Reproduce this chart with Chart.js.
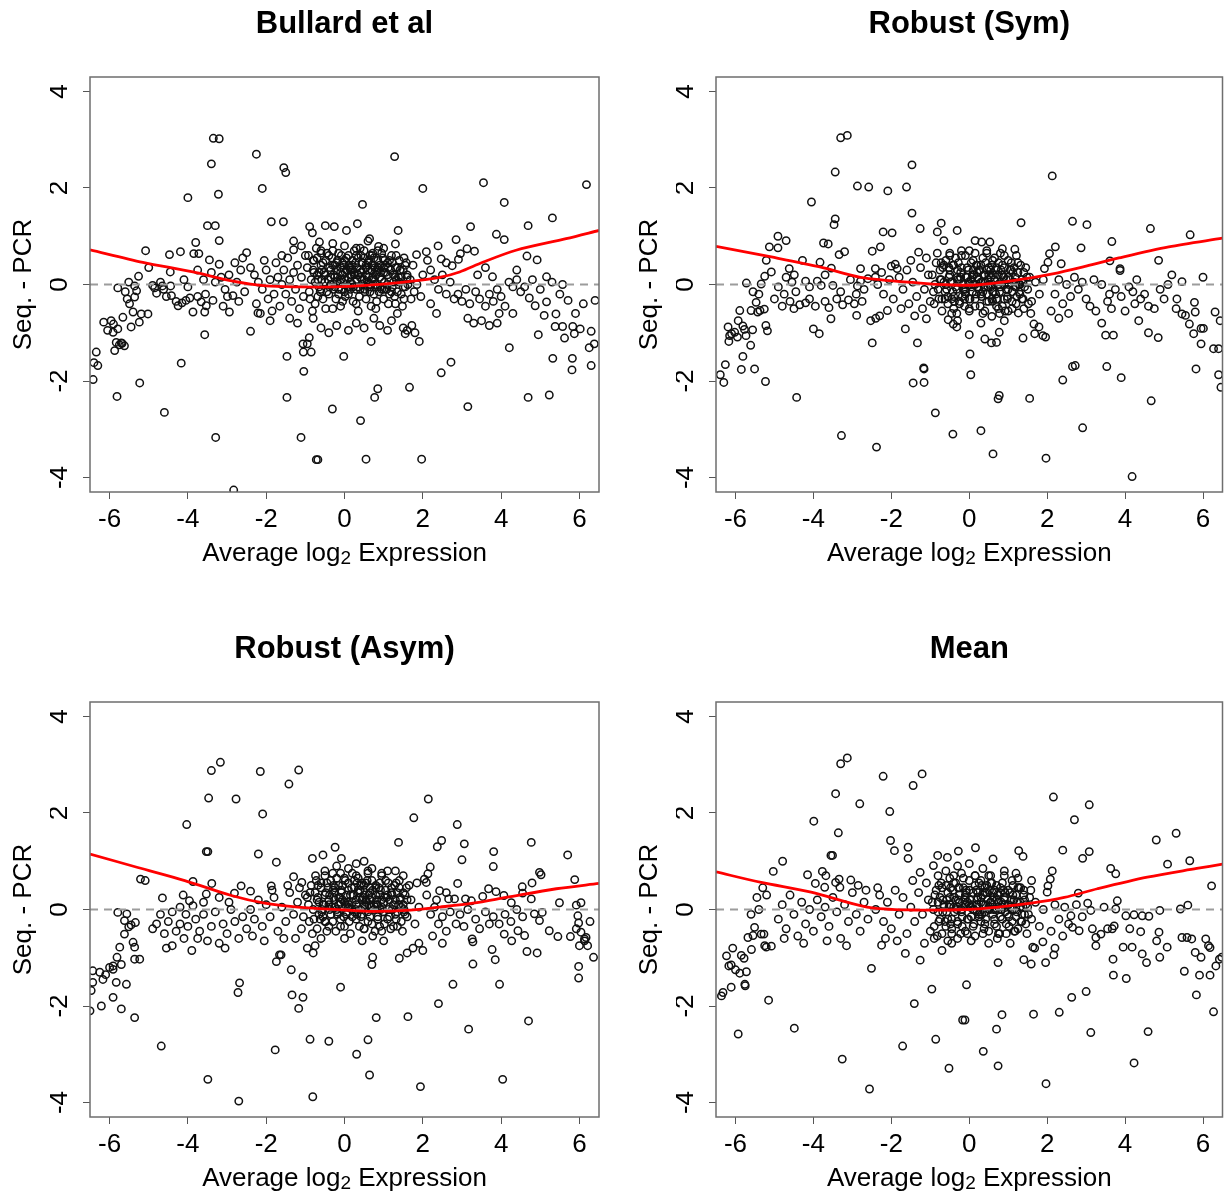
<!DOCTYPE html>
<html>
<head>
<meta charset="utf-8">
<script src="https://cdn.jsdelivr.net/npm/chart.js@4.4.0/dist/chart.umd.min.js"></script>
<style>
  body { margin: 0; background: #fff; width: 1228px; height: 1197px; position: relative; overflow: hidden; }
  canvas { position: absolute; }
</style>
</head>
<body>
<canvas id="c1" width="614" height="572" style="left:0;top:0"></canvas>
<canvas id="c2" width="614" height="572" style="left:614px;top:0"></canvas>
<canvas id="c3" width="614" height="572" style="left:0;top:625px"></canvas>
<canvas id="c4" width="614" height="572" style="left:614px;top:625px"></canvas>
<script>
const xTicks = [-6, -4, -2, 0, 2, 4, 6];
const yTicks = [-4, -2, 0, 2, 4];
const xRange = [-6.5, 6.5];
const yRange = [-4.3, 4.3];
const xLabelParts = ['Average log', '2', ' Expression'];
const yLabel = 'Seq. - PCR';
const FONT = '"Liberation Sans", Arial, Helvetica, sans-serif';

// ---- Bullard et al ----
const bullardPts = [
  [-6.42,-1.97],[-6.4,-1.62],[-6.3,-1.68],[-6.34,-1.40],[-6.15,-0.78],[-5.96,-0.75],[-5.91,-0.99],[-5.83,-1.20],[-5.87,-1.37],[-5.70,-1.21],
  [-5.62,-1.27],[-5.79,-0.92],[-5.66,-0.68],[-5.45,-0.88],[-5.49,-0.40],[-5.40,-0.57],[-5.36,-0.26],[-5.24,-0.78],[-5.19,-0.61],[-5.02,-0.61],
  [-5.81,-2.32],[-5.23,-2.04],[-5.79,-0.07],[-5.51,0.05],[-5.36,-0.03],[-5.31,-0.13],[-5.26,0.17],[-5.0,0.35],[-5.08,0.70],[-5.6,-0.15],
  [-5.55,-0.3],[-5.75,-1.25],[-5.68,-1.22],[-6.05,-0.95],[-5.9,-0.82],
  [-4.85,-0.07],[-4.65,-0.03],[-4.44,-0.03],[-4.0,-0.05],[-4.45,0.26],[-4.6,-2.65],[-4.17,-1.63],[-3.57,-1.04],[-3.29,-3.17],[-2.83,-4.26],
  [-4.47,0.62],[-4.19,0.68],[-3.85,0.64],[-3.72,0.64],[-3.45,0.51],[-3.8,0.87],[-3.2,0.91],[-3.5,1.22],[-3.3,1.22],[-4.0,1.80],
  [-3.22,1.87],[-3.4,2.50],[-3.35,3.03],[-3.2,3.02],[-2.5,0.66],[-2.25,2.70],[-2.1,1.99],
  [-3.87,-0.57],[-3.57,-0.57],[-3.53,-0.44],[-3.36,-0.33],[-2.94,-0.57],[-2.85,-0.23],[-2.99,-0.25],[-2.21,-0.59],
  [-4.42,-0.23],[-4.3,-0.35],[-4.25,-0.44],[-4.15,-0.38],[-4.05,-0.33],[-3.95,-0.28],[-3.75,-0.25],[-3.66,-0.36],
  [-4.9,-0.02],[-4.8,-0.18],[-4.62,-0.1],[-4.55,-0.25],[-4.7,0.05],
  [-3.6,0.1],[-3.4,0.25],[-3.3,0.05],[-3.15,0.15],[-3.05,-0.1],[-2.95,0.2],[-2.75,0.05],[-2.65,0.3],[-2.55,-0.15],[-2.7,-0.35],
  [-3.1,-0.45],[-3.55,-0.2],[-3.75,0.3],[-4.1,0.1],[-3.2,0.42],[-2.8,0.45],[-2.6,0.55],[-2.4,-0.97],
  [-1.87,1.30],[-1.56,1.30],[-1.55,2.42],[-1.5,2.32],[-1.3,0.72],[-1.47,-1.49],[-1.47,-2.34],[-1.11,-3.17],[-1.04,-1.80],[-1.05,-1.4],
  [-0.95,-1.23],[-0.9,-1.1],[-0.72,-3.63],
  [-2.3,0.2],[-2.2,0.05],[-2.1,-0.1],[-2.0,0.3],[-1.95,-0.3],[-1.9,0.1],[-1.8,-0.2],[-1.75,0.45],[-1.7,0.15],[-1.65,-0.45],
  [-1.6,0.0],[-1.55,0.3],[-1.5,-0.2],[-1.45,0.55],[-1.4,0.1],[-1.35,-0.35],[-1.3,0.25],[-1.25,-0.1],[-1.2,0.4],[-1.15,-0.5],
  [-1.1,0.15],[-1.05,-0.25],[-1.0,0.6],[-2.4,0.35],[-2.25,-0.4],[-2.05,0.5],[-1.85,-0.55],[-1.6,0.6],[-1.4,-0.7],[-1.2,-0.8],
  [-1.9,-0.75],[-2.15,-0.6],[-1.3,0.9],[-1.1,0.8],
  [-0.89,1.2],[-0.82,1.07],[-0.49,1.22],[-0.26,1.2],[-0.64,0.88],[0.05,1.12],[0.33,1.26],[0.64,0.95],[0.87,0.79],[0.46,1.66],
  [1.28,2.65],[1.37,1.12],[1.30,0.84],[1.84,0.62],[2.0,1.99],[-0.02,-1.49],[0.68,-1.18],[-1.06,-1.23],[-0.85,-1.40],[-0.31,-2.58],
  [0.41,-2.82],[0.85,-2.16],[0.77,-2.34],[-0.68,-3.63],[0.55,-3.62],[1.97,-3.62],[1.91,-1.18],[1.66,-2.13],[1.5,-0.9],[1.6,-0.95],
  [1.72,-0.85],[1.8,-1.0],[1.55,-1.02],
  [-0.6,-0.9],[-0.4,-1.0],[-0.2,-0.85],[0.1,-0.95],[0.3,-0.8],[0.5,-0.9],[0.9,-0.85],[1.1,-0.95],[1.2,-0.75],[-0.8,-0.7],[0.75,-0.7],[1.35,-0.6],
  [-0.95,0.35],[-0.9,-0.15],[-0.85,0.1],[-0.8,0.5],[-0.75,-0.4],[-0.7,0.2],[-0.65,-0.05],[-0.6,0.4],[-0.55,-0.3],[-0.5,0.05],
  [-0.45,0.65],[-0.4,-0.2],[-0.35,0.3],[-0.3,-0.5],[-0.25,0.15],[-0.2,0.45],[-0.15,-0.1],[-0.1,0.25],[-0.05,-0.35],[0.0,0.1],
  [0.05,0.55],[0.1,-0.2],[0.15,0.3],[0.2,0.0],[0.25,0.7],[0.3,-0.4],[0.35,0.2],[0.4,-0.1],[0.45,0.45],[0.5,0.1],
  [0.55,-0.3],[0.6,0.3],[0.65,0.0],[0.7,0.6],[0.75,-0.2],[0.8,0.2],[0.85,-0.05],[0.9,0.4],[0.95,0.1],[1.0,-0.3],
  [1.05,0.25],[1.1,0.0],[1.15,0.5],[1.2,-0.15],[1.25,0.2],[1.3,-0.4],[1.35,0.35],[1.4,0.05],[1.45,-0.2],[1.5,0.3],
  [1.55,-0.05],[1.6,0.15],[1.7,-0.3],[1.75,0.4],[1.85,0.0],[1.95,-0.25],[2.0,0.2],
  [-0.92,0.6],[-0.82,-0.55],[-0.72,0.75],[-0.62,-0.15],[-0.52,0.25],[-0.42,0.1],[-0.32,0.55],[-0.22,-0.3],[-0.12,0.05],[-0.02,0.4],
  [0.08,-0.05],[0.18,0.2],[0.28,0.45],[0.38,-0.25],[0.48,0.3],[0.58,0.05],[0.68,-0.45],[0.78,0.35],[0.88,-0.15],[0.98,0.55],
  [1.08,-0.1],[1.18,0.3],[1.28,-0.25],[1.38,0.15],[1.48,-0.45],[1.58,0.45],[1.68,0.1],[1.78,-0.15],
  [-0.88,-0.3],[-0.78,0.25],[-0.68,-0.25],[-0.58,0.1],[-0.48,-0.5],[-0.38,0.35],[-0.28,-0.1],[-0.18,0.15],[-0.08,0.6],[0.02,-0.25],
  [0.12,0.35],[0.22,-0.35],[0.32,0.1],[0.42,0.25],[0.52,-0.15],[0.62,0.5],[0.72,0.15],[0.82,-0.35],[0.92,0.25],[1.02,0.05],
  [1.12,-0.4],[1.22,0.45],[1.32,0.1],[1.42,0.3],[1.52,-0.3],[1.62,0.0],[-0.6,0.7],[0.0,0.8],[0.4,0.75],[0.85,0.7],[-0.3,0.85],[0.6,0.9],
  [-0.35,0.0],[-0.25,0.4],[-0.15,-0.2],[-0.05,0.2],[0.05,0.0],[0.15,-0.1],[0.25,0.25],[0.35,-0.05],[0.45,0.1],[0.55,0.35],
  [0.65,-0.15],[0.75,0.1],[0.85,0.3],[0.95,-0.1],[0.2,0.4],[0.5,0.55],[0.3,0.6],[0.7,0.4],[-0.1,-0.45],[0.35,-0.55],
  [0.8,-0.5],[1.0,0.35],[0.1,0.15],[0.6,-0.05],
  [2.39,0.80],[2.47,0.53],[2.75,0.39],[2.91,0.52],[2.96,0.64],[3.13,0.74],[3.32,0.69],[2.85,0.93],[3.22,1.20],[3.88,1.04],
  [4.08,0.93],[4.08,1.70],[3.55,2.11],[4.69,1.22],[5.31,1.38],[6.18,2.07],[4.66,0.59],[4.92,0.51],[5.16,0.16],[5.57,0.0],
  [3.78,0.16],[2.09,0.68],[2.12,0.50],[2.2,0.3],[2.3,0.1],[2.4,-0.1],[2.5,0.2],[2.6,-0.2],[2.7,0.05],[2.8,-0.3],[2.2,-0.4],[2.35,-0.6],
  [6.4,-0.33],[5.71,-0.33],[5.16,-0.36],[4.72,-0.28],[4.87,-0.44],[5.10,-0.64],[5.40,-0.61],[5.38,-0.87],[5.57,-0.87],[5.62,-1.11],
  [5.83,-0.87],[6.02,-0.92],[5.87,-1.02],[4.95,-1.04],[6.3,-0.97],[6.25,-1.31],[6.38,-1.23],[6.3,-1.68],[5.82,-1.53],[5.81,-1.77],
  [5.32,-1.53],[5.23,-2.29],[4.69,-2.34],[4.21,-1.31],[3.15,-2.53],[2.72,-1.61],[2.47,-1.83],
  [3.15,-0.7],[3.3,-0.8],[3.5,-0.75],[3.7,-0.85],[3.9,-0.8],[3.95,-0.6],
  [2.9,-0.2],[3.0,-0.35],[3.1,-0.1],[3.2,-0.4],[3.35,-0.15],[3.45,-0.3],[3.6,-0.45],[3.7,-0.2],[3.8,-0.35],[3.9,-0.1],
  [4.0,-0.25],[4.2,0.05],[4.3,-0.05],[4.4,0.1],[4.5,-0.15],[4.1,-0.45],[4.3,-0.6],[4.6,-0.05],[4.8,0.1],[5.0,-0.1],
  [5.3,0.05],[5.5,-0.2],[5.9,-0.6],[6.1,-0.4],[3.4,0.2],[3.6,0.35],[4.4,0.3],[2.6,0.45]
];
// dense centre of the Bullard cloud
const bullardCore = [
  [-0.8,0.3],[-0.75,0.05],[-0.7,0.55],[-0.65,0.25],[-0.6,-0.1],[-0.55,0.45],[-0.5,0.2],[-0.45,-0.15],[-0.4,0.6],[-0.35,0.15],
  [-0.3,0.4],[-0.25,-0.05],[-0.2,0.3],[-0.15,0.65],[-0.1,0.1],[-0.05,0.45],[0.0,-0.15],[0.05,0.3],[0.1,0.6],[0.15,0.05],
  [0.2,0.5],[0.25,0.2],[0.3,-0.1],[0.35,0.55],[0.4,0.3],[0.45,0.0],[0.5,0.7],[0.55,0.2],[0.6,0.45],[0.65,-0.05],
  [0.7,0.3],[0.75,0.55],[0.8,0.0],[0.85,0.5],[0.9,0.15],[0.95,0.65],[1.0,-0.1],[1.05,0.4],[1.1,0.2],[1.15,-0.2],
  [1.2,0.6],[1.25,0.05],[1.3,0.35],[1.35,-0.15],[1.4,0.5],[1.45,0.15],[1.5,-0.05],[1.55,0.4],[1.6,0.2],
  [-0.78,0.5],[-0.68,0.1],[-0.58,0.3],[-0.48,0.5],[-0.38,-0.05],[-0.28,0.2],[-0.18,0.5],[-0.08,-0.1],[0.02,0.25],[0.12,0.4],
  [0.22,-0.05],[0.32,0.35],[0.42,0.6],[0.52,-0.1],[0.62,0.15],[0.72,0.65],[0.82,0.25],[0.92,-0.05],[1.02,0.5],[1.12,0.35],
  [1.22,-0.05],[1.32,0.6],[1.42,0.3],[1.52,0.55],
  [-0.6,0.65],[-0.3,0.7],[0.0,0.5],[0.3,0.75],[0.65,0.6],[1.0,0.75],[-0.2,0.05],[0.1,-0.05],[0.4,0.15],[0.7,0.1],
  [1.0,0.25],[1.3,0.15],[0.2,0.3],[0.55,0.4],[0.85,0.35],[-0.1,0.35],[0.15,0.2],[0.45,0.45],[0.75,0.4],[1.1,0.45]
];
const bullardFit = [[-6.5,0.72],[-5.15,0.46],[-3.87,0.26],[-2.85,0.07],[-2.0,-0.03],[-1.15,-0.05],[-0.3,-0.05],[0.55,-0.02],
  [1.4,0.04],[2.43,0.15],[2.94,0.26],[3.53,0.46],[4.38,0.71],[5.66,0.95],[6.5,1.12]];

// ---- Robust (Sym) ----
const symPts = [
  [-6.39,-1.87],[-6.30,-2.03],[-6.26,-1.66],[-6.19,-0.88],[-6.15,-1.06],[-6.17,-1.18],[-6.10,-1.02],[-6.02,-0.99],[-5.93,-0.75],[-5.89,-0.54],
  [-5.95,-1.09],[-5.81,-0.86],[-5.77,-0.93],[-5.73,-1.06],[-5.60,-0.54],[-5.56,-0.94],[-5.47,-0.37],[-5.43,-0.57],[-5.37,-0.54],[-5.26,-0.51],
  [-5.22,-0.85],[-5.18,-0.96],[-5.61,-1.26],[-5.81,-1.49],[-5.85,-1.76],[-5.51,-1.75],[-5.23,-2.01],[-5.72,0.03],[-5.34,0.01],[-5.25,0.17],
  [-5.08,0.26],[-5.21,0.50],[-5.13,0.78],[-5.4,-0.2],[-5.55,-0.15],
  [-4.91,1.0],[-4.70,0.91],[-4.91,0.76],[-4.62,0.33],[-4.49,0.20],[-4.28,0.50],[-3.83,0.46],[-3.54,0.34],[-3.74,0.86],[-3.62,0.84],
  [-3.34,0.62],[-3.20,0.68],[-4.05,1.71],[-3.44,1.36],[-3.47,1.24],[-3.44,2.33],[-3.30,3.04],[-3.13,3.09],[-2.87,2.04],[-2.58,2.02],
  [-2.79,0.33],[-2.79,0.07],[-2.87,-0.03],
  [-4.2,0.07],[-3.9,0.07],[-3.8,-0.02],[-3.5,-0.02],[-4.43,-2.34],[-3.28,-3.13],[-4.0,-0.92],[-3.85,-1.02],[-3.55,-0.71],[-2.89,-0.64],[-2.49,-1.21],
  [-5.0,-0.3],[-4.8,-0.45],[-4.6,-0.35],[-4.5,-0.5],[-4.35,-0.42],[-4.2,-0.38],[-4.1,-0.3],[-3.95,-0.45],[-3.7,-0.35],[-3.6,-0.48],
  [-3.4,-0.3],[-3.25,-0.42],[-3.1,-0.32],[-2.95,-0.4],
  [-4.9,-0.05],[-4.75,-0.2],[-4.55,0.05],[-4.45,-0.15],[-4.1,-0.05],[-3.7,0.2],[-3.3,-0.15],[-3.05,0.1],[-2.9,-0.2],[-2.7,-0.1],
  [-2.6,0.12],[-2.75,-0.35],[-4.7,0.15],
  [-2.49,0.69],[-2.28,0.78],[-2.41,0.33],[-2.41,0.15],[-2.21,1.09],[-1.98,1.07],[-2.09,1.94],[-1.61,2.02],[-1.47,2.48],[-1.47,1.48],
  [-1.26,1.16],[-1.30,0.67],[-2.0,0.38],[-1.9,0.42],[-1.85,0.33],
  [-2.53,-0.75],[-2.4,-0.7],[-2.3,-0.65],[-2.1,-0.54],[-1.64,-0.92],[-1.33,-1.21],[-1.17,-1.73],[-1.44,-2.04],[-1.16,-2.03],[-1.1,-0.71],[-2.38,-3.37],
  [-2.35,0.0],[-2.2,-0.2],[-2.05,0.1],[-1.95,-0.3],[-1.8,0.15],[-1.7,-0.1],[-1.6,0.3],[-1.55,-0.4],[-1.45,0.05],[-1.35,-0.25],
  [-1.25,0.35],[-1.15,-0.1],[-1.05,0.2],[-2.25,0.25],[-1.75,-0.5],[-1.5,0.5],[-1.2,-0.5],[-1.0,-0.35],[-1.1,0.55],[-1.4,-0.65],
  [-0.72,1.27],[-0.82,1.09],[-0.65,0.91],[-0.31,1.12],[0.15,0.91],[0.32,0.88],[0.53,0.88],[0.85,0.74],[1.17,0.73],[1.21,0.60],
  [1.33,1.28],[1.93,0.33],[2.02,0.46],[2.06,0.64],[2.21,0.78],[2.13,2.25],
  [-1.16,-1.75],[-0.87,-2.66],[-0.42,-3.10],[0.30,-3.03],[0.61,-3.51],[0.77,-2.30],[0.74,-2.37],[1.55,-2.36],[1.97,-3.6],[0.02,-1.44],
  [0.04,-1.87],[0.0,-1.04],[0.40,-1.13],[0.57,-1.21],[0.70,-1.20],[0.77,-0.99],[1.38,-1.11],[1.68,-1.02],[1.66,-0.82],[1.89,-1.06],
  [1.96,-1.09],[1.79,-0.88],[1.26,-0.59],[0.58,-0.66],[-0.54,-0.73],[-0.41,-0.82],[-0.32,-0.88],
  [-0.95,0.2],[-0.9,-0.4],[-0.85,0.45],[-0.8,-0.1],[-0.75,0.3],[-0.7,-0.55],[-0.65,0.05],[-0.6,0.5],[-0.55,-0.25],[-0.5,0.2],
  [-0.45,-0.6],[-0.4,0.4],[-0.35,-0.05],[-0.3,0.15],[-0.25,-0.4],[-0.2,0.6],[-0.15,0.0],[-0.1,-0.2],[-0.05,0.35],[0.0,-0.5],
  [0.05,0.1],[0.1,0.5],[0.15,-0.3],[0.2,0.25],[0.25,-0.1],[0.3,0.4],[0.35,-0.6],[0.4,0.05],[0.45,0.3],[0.5,-0.35],
  [0.55,0.15],[0.6,-0.15],[0.65,0.55],[0.7,-0.45],[0.75,0.2],[0.8,-0.05],[0.85,0.4],[0.9,-0.3],[0.95,0.1],[1.0,-0.55],
  [1.05,0.3],[1.1,-0.15],[1.15,0.05],[1.2,-0.4],[1.25,0.25],[1.3,-0.2],[1.35,0.1],[1.4,-0.5],[1.45,0.35],[1.5,-0.1],
  [1.55,0.15],[1.6,-0.35],[1.7,0.05],[1.8,-0.2],[1.9,0.1],
  [-0.92,-0.15],[-0.82,0.65],[-0.72,0.1],[-0.62,-0.3],[-0.52,0.35],[-0.42,-0.15],[-0.32,-0.6],[-0.22,0.25],[-0.12,-0.45],[-0.02,0.05],
  [0.08,-0.15],[0.18,0.4],[0.28,-0.45],[0.38,0.2],[0.48,-0.05],[0.58,0.4],[0.68,-0.2],[0.78,-0.6],[0.88,0.15],[0.98,-0.25],
  [1.08,0.45],[1.18,-0.05],[1.28,0.0],[1.38,-0.3],[1.48,0.15],[1.58,-0.6],[-0.88,0.0],[-0.78,-0.3],[-0.68,0.35],[-0.58,-0.1],
  [-0.48,0.05],[-0.38,-0.35],[-0.28,0.45],[-0.18,-0.25],[-0.08,0.15],[0.02,-0.3],[0.12,0.2],[0.22,-0.05],[0.32,-0.25],[0.42,0.45],
  [0.52,0.0],[0.62,0.2],[0.72,-0.3],[0.82,0.3],[0.92,-0.55],[1.02,0.0],[1.12,0.25],[1.22,-0.25],[1.32,0.4],[1.42,-0.05],
  [1.52,-0.4],[-0.5,0.65],[0.0,0.7],[0.45,0.65],[0.9,0.6],[-0.3,-0.75],[0.3,-0.8],[0.9,-0.75],[-0.25,0.1],[0.05,-0.05],
  [0.35,0.05],[0.6,-0.35],[0.15,0.0],[-0.1,-0.1],[0.55,0.3],[0.25,0.3],[0.75,0.0],[1.0,0.15],[-0.45,-0.3],[0.45,-0.2],
  [2.65,1.31],[3.02,1.24],[4.65,1.16],[5.67,1.03],[3.66,0.89],[4.86,0.50],[3.87,0.33],[3.61,0.49],[2.87,0.76],[2.36,0.43],
  [5.46,0.06],[3.87,0.29],
  [6.31,-0.57],[6.44,-0.75],[6.27,-1.33],[6.40,-1.33],[6.40,-1.87],[6.46,-2.13],[5.82,-1.75],[5.95,-1.23],[5.95,-0.91],[6.01,-0.91],
  [5.76,-1.02],[5.80,-0.57],[5.65,-0.82],[5.55,-0.64],[5.46,-0.61],[5.31,-0.50],[5.33,-0.30],[5.78,-0.37],[4.67,-2.41],[4.18,-3.98],
  [3.90,-1.93],[3.53,-1.70],[2.91,-2.97],[2.65,-1.70],[2.72,-1.68],[2.40,-1.98],
  [3.0,-0.3],[3.1,-0.45],[3.25,-0.55],[3.4,-0.8],[3.5,-1.05],[3.7,-1.05],[3.55,-0.35],[3.6,-0.2],[3.65,-0.5],[3.75,-0.1],
  [3.9,-0.25],[4.0,-0.55],[4.1,-0.05],[4.2,-0.15],[4.25,-0.4],[4.35,-0.75],[4.4,-0.3],[4.5,-0.2],[4.6,-0.45],[4.75,-0.5],
  [4.6,-1.0],[4.85,-1.1],[4.9,-0.1],[5.0,-0.3],[5.1,0.0],[2.2,-0.2],[2.3,0.1],[2.4,-0.4],[2.5,0.0],[2.6,-0.25],
  [2.7,0.15],[2.8,-0.1],[2.9,0.05],[3.2,0.1],[3.4,0.0],[2.1,-0.55],[2.3,-0.7],[2.55,-0.6],[5.2,0.2],[6.0,0.15],[4.3,0.1]
];
const symCore = [
  [-0.75,0.1],[-0.7,-0.3],[-0.65,0.4],[-0.6,0.0],[-0.55,-0.4],[-0.5,0.3],[-0.45,0.05],[-0.4,-0.25],[-0.35,0.55],[-0.3,0.1],
  [-0.25,-0.35],[-0.2,0.35],[-0.15,-0.1],[-0.1,0.6],[-0.05,0.15],[0.0,-0.3],[0.05,0.45],[0.1,0.0],[0.15,-0.45],[0.2,0.4],
  [0.25,0.1],[0.3,-0.2],[0.35,0.55],[0.4,0.2],[0.45,-0.35],[0.5,0.35],[0.55,-0.05],[0.6,0.5],[0.65,0.1],[0.7,-0.3],
  [0.75,0.45],[0.8,0.05],[0.85,-0.45],[0.9,0.35],[0.95,-0.1],[1.0,0.5],[1.05,0.1],[1.1,-0.35],[1.15,0.35],[1.2,-0.05],
  [1.25,0.45],[1.3,0.0],[1.35,-0.3],[1.4,0.25],
  [-0.72,0.45],[-0.62,-0.15],[-0.52,0.15],[-0.42,0.4],[-0.32,-0.1],[-0.22,0.15],[-0.12,-0.3],[-0.02,0.3],[0.08,0.2],[0.18,-0.2],
  [0.28,0.3],[0.38,-0.05],[0.48,0.1],[0.58,-0.3],[0.68,0.3],[0.78,-0.15],[0.88,0.15],[0.98,-0.3],[1.08,0.3],[1.18,0.15],
  [1.28,-0.15],[1.38,0.05],
  [-0.5,0.6],[-0.2,0.7],[0.15,0.65],[0.45,0.7],[0.8,0.65],[-0.4,-0.5],[0.0,-0.55],[0.4,-0.55],[0.75,-0.5],[1.1,-0.5],
  [0.0,0.0],[0.3,0.05],[0.6,0.0],[0.9,0.0],[-0.3,0.3],[0.2,0.15],[0.5,0.2],[0.85,0.2],[-0.1,-0.15],[0.35,-0.15],
  [0.65,-0.15],[1.0,-0.1],[0.1,0.3],[0.7,0.35]
];
const symFit = [[-6.5,0.79],[-5.08,0.57],[-3.81,0.36],[-2.79,0.15],[-1.26,0.03],[-0.41,-0.01],[0.19,-0.01],[1.29,0.10],
  [2.14,0.22],[3.0,0.38],[3.84,0.55],[5.12,0.78],[6.5,0.96]];

// ---- Robust (Asym) ----
const asymPts = [
  [-5.79,-0.06],[-5.56,-0.09],[-5.62,-0.23],[-5.34,-0.27],[-5.45,-0.32],[-5.51,-0.36],[-5.62,-0.51],[-5.74,-0.78],[-5.40,-0.68],[-5.36,-0.78],
  [-5.36,-1.03],[-5.23,-1.03],[-5.81,-0.99],[-5.91,-1.17],[-5.91,-1.24],[-5.70,-1.14],[-5.83,-1.51],[-5.57,-1.55],[-5.70,-2.06],[-5.36,-2.24],
  [-5.91,-1.82],[-6.21,-2.0],[-6.25,-1.30],[-6.17,-1.45],[-6.43,-1.27],[-6.43,-1.51],[-6.47,-1.68],[-6.5,-2.10],[-5.21,0.63],[-5.09,0.60],
  [-6.0,-1.2],[-6.1,-1.35],
  [-4.65,0.24],[-4.12,0.30],[-3.96,0.18],[-3.87,0.08],[-3.87,0.58],[-3.39,0.54],[-3.53,0.32],[-2.64,0.49],[-2.81,0.34],[-2.40,0.38],
  [-4.03,1.76],[-3.53,1.20],[-3.49,1.20],[-3.47,2.31],[-3.40,2.88],[-3.17,3.05],[-2.77,2.29],[-2.15,2.86],[-2.20,1.15],[-2.09,1.98],
  [-4.68,-2.83],[-3.49,-3.52],[-2.70,-3.97],[-2.72,-1.72],[-2.68,-1.52],
  [-4.9,-0.4],[-4.8,-0.3],[-4.7,-0.1],[-4.6,-0.5],[-4.5,-0.25],[-4.4,-0.75],[-4.3,-0.45],[-4.2,-0.3],[-4.1,-0.6],[-4.0,-0.35],
  [-3.9,-0.85],[-3.8,-0.2],[-3.7,-0.45],[-3.6,-0.1],[-3.5,-0.65],[-3.4,-0.35],[-3.3,-0.05],[-3.2,-0.7],[-3.1,-0.3],[-3.0,-0.5],
  [-2.9,0.0],[-2.8,-0.25],[-2.7,-0.6],[-2.6,-0.15],[-2.5,-0.4],[-4.2,0.05],[-3.6,0.15],[-3.2,0.25],[-2.95,0.15],[-4.4,-0.05],
  [-3.75,-0.6],[-4.55,-0.8],[-3.05,-0.8],[-4.05,-0.1],
  [-1.87,0.49],[-1.74,0.98],[-1.42,2.60],[-1.17,2.89],[-1.30,0.68],[-1.09,0.56],[-0.82,1.06],[-0.74,0.70],[-0.55,1.13],[-0.24,1.29],[-0.08,1.06],
  [-1.77,-2.91],[-0.88,-2.69],[-0.40,-2.73],[-1.34,-1.77],[-1.06,-1.82],[-1.17,-2.05],[-1.36,-1.25],[-1.06,-1.39],[-1.74,-1.08],[-1.66,-0.94],
  [-1.62,-0.94],[-0.81,-3.88],[-0.10,-1.61],
  [-2.4,0.0],[-2.3,-0.2],[-2.2,0.2],[-2.1,-0.35],[-2.0,0.1],[-1.9,-0.15],[-1.8,0.25],[-1.7,-0.45],[-1.6,0.05],[-1.5,-0.25],
  [-1.4,0.35],[-1.3,-0.1],[-1.2,0.15],[-1.1,-0.4],[-1.0,0.3],[-2.35,-0.55],[-2.05,-0.65],[-1.85,0.4],[-1.55,-0.6],[-1.25,-0.6],
  [-1.45,0.5],[-1.15,0.45],[-1.05,-0.15],[-0.95,-0.8],[-0.8,-0.9],[-0.75,-0.75],
  [0.72,-0.99],[0.70,-1.14],[1.40,-1.01],[0.81,-2.24],[0.60,-2.70],[0.31,-3.0],[0.64,-3.43],[1.62,-2.22],[1.94,-3.67],[1.6,-0.9],
  [1.75,-0.8],[1.9,-0.7],[2.0,-0.85],
  [1.38,1.39],[1.77,1.90],[0.5,1.0],[0.3,0.95],[0.7,0.85],[1.1,0.8],[1.5,0.7],[1.65,0.5],[1.85,0.55],[-0.5,0.8],[-0.2,0.9],[0.1,0.85],
  [-0.95,0.25],[-0.9,-0.25],[-0.85,0.5],[-0.8,0.0],[-0.75,0.35],[-0.7,-0.4],[-0.65,0.15],[-0.6,0.55],[-0.55,-0.15],[-0.5,0.3],
  [-0.45,-0.45],[-0.4,0.1],[-0.35,0.6],[-0.3,-0.25],[-0.25,0.35],[-0.2,0.0],[-0.15,0.5],[-0.1,-0.35],[-0.05,0.2],[0.0,0.65],
  [0.05,-0.1],[0.1,0.4],[0.15,-0.5],[0.2,0.15],[0.25,0.6],[0.3,-0.2],[0.35,0.35],[0.4,0.0],[0.45,0.55],[0.5,-0.4],
  [0.55,0.2],[0.6,-0.05],[0.65,0.45],[0.7,-0.3],[0.75,0.1],[0.8,0.5],[0.85,-0.15],[0.9,0.3],[0.95,-0.45],[1.0,0.15],
  [1.05,0.4],[1.1,-0.2],[1.15,0.05],[1.2,0.35],[1.25,-0.35],[1.3,0.2],[1.35,-0.05],[1.4,0.45],[1.45,-0.25],[1.5,0.1],
  [1.55,0.3],[1.6,-0.15],[1.7,0.2],[1.8,-0.3],[1.9,0.05],
  [-0.92,0.1],[-0.82,-0.5],[-0.72,0.6],[-0.62,-0.2],[-0.52,0.1],[-0.42,0.45],[-0.32,0.05],[-0.22,-0.45],[-0.12,0.25],[-0.02,-0.15],
  [0.08,0.15],[0.18,0.45],[0.28,0.0],[0.38,-0.35],[0.48,0.25],[0.58,0.6],[0.68,0.05],[0.78,-0.45],[0.88,0.45],[0.98,-0.05],
  [1.08,0.25],[1.18,-0.4],[1.28,0.5],[1.38,0.1],[1.48,-0.45],[1.58,0.45],[-0.88,0.35],[-0.78,-0.2],[-0.68,0.25],[-0.58,0.0],
  [-0.48,-0.25],[-0.38,0.3],[-0.28,0.5],[-0.18,-0.1],[-0.08,0.4],[0.02,0.1],[0.12,-0.25],[0.22,0.3],[0.32,0.55],[0.42,-0.15],
  [0.52,0.05],[0.62,0.3],[0.72,-0.55],[0.82,0.2],[0.92,0.0],[1.02,-0.3],[1.12,0.55],[1.22,0.0],[1.32,-0.2],[1.42,0.25],
  [1.52,-0.05],[-0.3,0.75],[0.2,0.75],[0.6,0.75],[0.95,0.7],[-0.6,-0.6],[0.0,-0.6],[0.45,-0.65],[1.0,-0.65],[0.1,0.05],
  [0.3,0.2],[0.5,0.1],[0.7,0.25],[-0.1,0.15],[0.4,0.4],[0.85,0.1],[0.25,-0.05],[-0.25,0.2],[0.65,-0.15],
  [2.14,2.29],[2.88,1.76],[2.48,1.43],[2.37,1.30],[3.06,1.36],[3.0,1.03],[3.81,1.20],[3.80,0.89],[4.77,1.39],[5.70,1.13],
  [5.88,0.62],[4.98,0.77],[5.02,0.72],[4.79,0.55],[4.54,0.47],[2.19,0.88],[2.13,0.74],[2.04,0.63],[2.09,0.56],[2.89,0.54],
  [2.43,0.39],[2.66,0.22],[2.81,0.22],[3.09,0.22],[3.24,0.18],
  [3.53,0.27],[3.68,0.43],[3.87,0.37],[4.07,0.29],[4.26,0.14],[4.55,0.34],[4.77,0.22],[4.85,-0.09],[4.98,-0.23],[5.05,-0.06],
  [5.23,-0.44],[5.45,-0.56],[5.49,0.14],[5.77,-0.56],[5.92,0.09],[6.04,0.14],[5.96,-0.13],[5.98,-0.28],[5.92,-0.40],[6.04,-0.47],
  [6.00,-0.75],[6.17,-0.58],[6.21,-0.75],[6.13,-0.61],[6.27,-0.25],[6.36,-0.99],[5.98,-1.18],[5.98,-1.42],[6.13,-0.65],
  [4.92,-0.90],[4.66,-0.87],[4.6,-0.54],[4.43,-0.44],[4.27,-0.65],[4.08,-0.51],[3.77,-0.83],[3.85,-1.04],[3.96,-1.55],[4.70,-2.31],
  [3.28,-1.13],[3.26,-0.61],[3.28,-0.67],[3.17,-2.48],[2.77,-1.55],[2.40,-1.95],[4.04,-3.52],
  [2.2,-0.1],[2.3,0.05],[2.4,-0.3],[2.5,-0.15],[2.6,-0.45],[2.7,-0.05],[2.85,-0.3],[2.95,-0.1],[3.05,-0.35],[3.15,0.0],
  [3.35,-0.2],[3.45,-0.4],[3.6,-0.05],[3.7,-0.3],[3.8,-0.15],[3.95,-0.3],[4.1,-0.1],[4.25,-0.25],[4.4,0.0],[4.55,-0.15],
  [2.25,-0.55],[2.5,-0.7],[2.1,0.3],[2.35,0.2],[2.6,0.35]
];
const asymCore = [
  [-0.7,0.2],[-0.65,-0.1],[-0.6,0.45],[-0.55,0.1],[-0.5,-0.25],[-0.45,0.55],[-0.4,0.2],[-0.35,-0.1],[-0.3,0.4],[-0.25,0.05],
  [-0.2,0.65],[-0.15,0.25],[-0.1,-0.2],[-0.05,0.5],[0.0,0.15],[0.05,-0.05],[0.1,0.55],[0.15,0.3],[0.2,-0.15],[0.25,0.45],
  [0.3,0.1],[0.35,0.65],[0.4,0.25],[0.45,-0.1],[0.5,0.5],[0.55,0.15],[0.6,-0.25],[0.65,0.35],[0.7,0.6],[0.75,0.0],
  [0.8,0.3],[0.85,-0.2],[0.9,0.55],[0.95,0.2],[1.0,-0.05],[1.05,0.6],[1.1,0.3],[1.15,-0.15],[1.2,0.45],[1.25,0.1],
  [1.3,-0.1],[1.35,0.35],[1.4,0.6],[1.45,0.05],[1.5,0.35],[1.55,-0.1],[1.6,0.2],
  [-0.68,0.5],[-0.58,-0.05],[-0.48,0.35],[-0.38,0.0],[-0.28,0.25],[-0.18,-0.05],[-0.08,0.35],[0.02,0.6],[0.12,0.1],[0.22,0.3],
  [0.32,-0.1],[0.42,0.5],[0.52,0.3],[0.62,0.1],[0.72,0.4],[0.82,0.1],[0.92,0.4],[1.02,0.25],[1.12,0.0],[1.22,0.3],
  [1.32,0.55],[1.42,0.2],[1.52,0.0],
  [-0.5,0.7],[-0.1,0.75],[0.3,0.7],[0.6,0.8],[0.95,0.75],[1.3,0.8],[-0.4,-0.35],[0.0,-0.35],[0.5,-0.4],[0.9,-0.35],
  [1.35,-0.35],[0.05,0.3],[0.35,0.4],[0.65,0.2],[0.95,0.05],[-0.25,0.45],[0.2,0.0],[0.55,0.55],[0.8,0.45],[1.15,0.2],
  [-0.15,0.1],[0.45,0.2]
];
const asymFit = [[-6.5,1.15],[-5.28,0.87],[-4.08,0.60],[-2.89,0.29],[-2.04,0.13],[-1.19,0.05],[0.0,-0.01],[0.72,-0.04],
  [1.57,-0.02],[2.43,0.05],[3.28,0.13],[4.13,0.25],[5.41,0.43],[6.5,0.54]];

// ---- Mean ----
const meanPts = [
  [-6.23,-0.96],[-6.17,-1.17],[-6.11,-1.15],[-6.07,-0.80],[-5.89,-1.32],[-5.78,-1.01],[-5.76,-1.55],[-5.75,-1.58],[-5.72,-1.29],[-5.59,-0.83],
  [-5.68,-0.58],[-5.55,-0.54],[-5.51,-0.37],[-5.34,-0.51],[-5.25,-0.75],[-5.21,-0.78],[-5.08,-0.76],[-5.27,-0.51],[-6.11,-1.61],[-6.36,-1.79],
  [-6.32,-1.72],[-5.93,-2.58],[-5.15,-1.88],[-6.0,-1.25],[-5.85,-0.95],[-5.6,-0.1],[-5.4,0.0],[-5.2,0.3],[-5.03,0.79],[-5.3,0.45],[-5.45,0.25],
  [-4.79,1.00],[-4.15,0.72],[-3.95,0.54],[-3.77,0.79],[-3.68,0.70],[-3.71,0.46],[-3.43,0.56],[-3.34,0.63],[-3.32,0.46],[-3.04,0.61],
  [-3.55,1.12],[-3.99,1.83],[-3.36,1.59],[-3.51,1.12],[-3.43,2.40],[-3.30,3.02],[-3.13,3.14],[-2.81,2.19],[-2.21,2.76],
  [-4.49,-2.46],[-3.26,-3.10],[-2.56,-3.72],[-2.51,-1.22],
  [-4.9,-0.2],[-4.8,0.1],[-4.7,-0.4],[-4.6,0.3],[-4.5,-0.1],[-4.4,-0.55],[-4.3,0.15],[-4.2,-0.3],[-4.1,0.0],[-4.0,-0.45],
  [-3.9,0.2],[-3.8,-0.15],[-3.7,0.05],[-3.6,-0.35],[-3.5,0.25],[-3.4,-0.05],[-3.3,-0.6],[-3.2,0.1],[-3.1,-0.25],[-3.0,0.35],
  [-2.9,-0.1],[-2.8,-0.45],[-2.7,0.15],[-2.6,-0.2],[-2.85,0.5],[-2.65,0.4],[-3.65,-0.65],[-4.25,-0.7],[-4.75,-0.6],[-3.15,-0.75],
  [-2.04,2.03],[-2.02,1.43],[-1.92,1.22],[-1.57,1.29],[-1.57,1.06],[-1.44,2.57],[-1.21,2.81],[-1.26,0.77],[-0.92,0.91],[-0.81,1.12],
  [-0.56,1.08],[-0.28,1.21],
  [-1.64,-0.91],[-1.26,-1.05],[-0.96,-1.65],[-1.41,-1.95],[-1.71,-2.83],[-0.86,-2.69],[-0.52,-3.29],[-0.17,-2.29],[-0.07,-1.56],[-2.25,-0.74],
  [-2.4,0.0],[-2.3,0.3],[-2.2,-0.25],[-2.1,0.15],[-2.0,-0.4],[-1.9,0.4],[-1.8,-0.1],[-1.7,0.25],[-1.6,-0.5],[-1.5,0.05],
  [-1.4,-0.25],[-1.3,0.35],[-1.2,-0.1],[-1.1,0.55],[-1.0,-0.45],[-2.35,0.45],[-2.15,-0.6],[-1.85,-0.65],[-1.45,0.6],[-1.15,-0.7],
  [-1.05,0.2],[-0.9,-0.6],[-0.7,-0.85],[-0.45,-0.7],[-0.3,-0.6],
  [0.16,1.28],[0.61,1.05],[1.27,1.22],[1.38,1.10],[0.74,-1.10],[1.40,-1.04],[1.59,-1.13],[1.96,-1.10],[2.17,-0.94],[1.63,-0.78],
  [1.68,-0.80],[1.89,-0.67],[1.65,-2.17],[0.84,-2.18],[0.70,-2.48],[0.36,-2.94],[0.74,-3.24],[-0.11,-2.29],[1.97,-3.61],
  [-0.6,0.8],[-0.3,0.9],[0.0,0.95],[0.35,0.85],[0.9,0.8],[1.2,0.75],[1.6,0.6],[-0.8,0.7],
  [-0.95,0.15],[-0.9,-0.35],[-0.85,0.4],[-0.8,-0.05],[-0.75,0.25],[-0.7,-0.5],[-0.65,0.1],[-0.6,0.5],[-0.55,-0.2],[-0.5,0.25],
  [-0.45,-0.4],[-0.4,0.05],[-0.35,0.55],[-0.3,-0.3],[-0.25,0.3],[-0.2,-0.05],[-0.15,0.45],[-0.1,-0.45],[-0.05,0.15],[0.0,0.6],
  [0.05,-0.15],[0.1,0.35],[0.15,-0.55],[0.2,0.1],[0.25,0.55],[0.3,-0.25],[0.35,0.3],[0.4,-0.05],[0.45,0.5],[0.5,-0.45],
  [0.55,0.15],[0.6,-0.1],[0.65,0.4],[0.7,-0.35],[0.75,0.05],[0.8,0.45],[0.85,-0.2],[0.9,0.25],[0.95,-0.5],[1.0,0.1],
  [1.05,0.35],[1.1,-0.25],[1.15,0.0],[1.2,0.3],[1.25,-0.4],[1.3,0.15],[1.35,-0.1],[1.4,0.4],[1.45,-0.3],[1.5,0.05],
  [1.55,0.25],[1.6,-0.2],[1.7,0.15],[1.8,-0.35],[1.9,0.0],
  [-0.92,0.0],[-0.82,-0.55],[-0.72,0.55],[-0.62,-0.25],[-0.52,0.05],[-0.42,0.4],[-0.32,0.0],[-0.22,-0.5],[-0.12,0.2],[-0.02,-0.2],
  [0.08,0.1],[0.18,0.4],[0.28,-0.05],[0.38,-0.4],[0.48,0.2],[0.58,0.55],[0.68,0.0],[0.78,-0.5],[0.88,0.4],[0.98,-0.1],
  [1.08,0.2],[1.18,-0.45],[1.28,0.45],[1.38,0.05],[1.48,-0.5],[1.58,0.4],[-0.88,0.3],[-0.78,-0.25],[-0.68,0.2],[-0.58,-0.05],
  [-0.48,-0.3],[-0.38,0.25],[-0.28,0.45],[-0.18,-0.15],[-0.08,0.35],[0.02,0.05],[0.12,-0.3],[0.22,0.25],[0.32,0.5],[0.42,-0.2],
  [0.52,0.0],[0.62,0.25],[0.72,-0.6],[0.82,0.15],[0.92,-0.05],[1.02,-0.35],[1.12,0.5],[1.22,-0.05],[1.32,-0.25],[1.42,0.2],
  [1.52,-0.1],[-0.4,0.7],[0.15,0.7],[0.55,0.7],[-0.55,-0.65],[0.05,-0.65],[0.5,-0.7],[1.05,-0.7],[0.1,0.0],[0.3,0.15],
  [0.5,0.05],[0.7,0.2],[-0.1,0.1],[0.4,0.35],[0.85,0.05],[0.25,-0.1],[-0.25,0.15],[0.65,-0.2],
  [2.16,2.33],[3.08,2.17],[2.70,1.86],[2.40,1.23],[2.91,1.06],[3.08,1.20],[4.80,1.44],[5.31,1.58],[5.09,0.94],[5.66,1.01],
  [6.22,0.49],[3.63,0.85],[3.76,0.74],[2.13,0.80],[2.08,0.63],[2.02,0.49],[2.0,0.36],
  [2.80,0.34],[3.04,0.13],[3.12,-0.02],[3.46,0.05],[3.80,0.18],[3.76,0.01],[4.02,-0.13],[4.23,-0.11],[4.44,-0.13],[4.61,-0.14],
  [4.89,-0.02],[5.42,0.01],[5.61,0.09],[5.46,-0.58],[5.59,-0.58],[5.71,-0.61],[5.80,-0.89],[5.95,-0.99],[6.07,-0.61],[6.18,-0.79],
  [6.14,-0.75],[6.42,-1.03],[6.33,-1.17],[6.18,-1.36],[5.91,-1.36],[5.52,-1.28],[5.83,-1.77],[6.27,-2.12],[6.48,-0.99],
  [3.67,-0.40],[3.72,-0.34],[3.95,-0.78],[4.18,-0.78],[4.44,-0.92],[4.55,-1.10],[4.87,-0.47],[4.81,-0.65],[4.89,-0.99],[5.08,-0.78],
  [4.12,-0.40],[4.40,-0.46],[3.69,-1.03],[3.70,-1.36],[4.03,-1.43],[4.59,-2.53],[4.23,-3.18],[3.0,-1.70],[2.63,-1.82],[3.12,-2.55],[2.31,-2.13],
  [2.61,-0.13],[2.82,-0.44],[2.65,-0.37],[3.16,-0.40],[3.25,-0.75],[3.25,-0.58],[3.38,-0.51],[3.55,-0.40],
  [2.2,0.1],[2.3,-0.2],[2.45,0.05],[2.55,-0.3],[2.75,0.1],[2.9,-0.15],[2.1,-0.45],[2.4,-0.55],[2.2,-0.8]
];
const meanCore = [
  [-0.8,0.15],[-0.75,-0.2],[-0.7,0.45],[-0.65,0.05],[-0.6,-0.35],[-0.55,0.35],[-0.5,0.1],[-0.45,-0.2],[-0.4,0.55],[-0.35,0.2],
  [-0.3,-0.25],[-0.25,0.45],[-0.2,0.0],[-0.15,0.65],[-0.1,0.25],[-0.05,-0.2],[0.0,0.4],[0.05,0.05],[0.1,-0.35],[0.15,0.5],
  [0.2,0.2],[0.25,-0.15],[0.3,0.6],[0.35,0.1],[0.4,-0.3],[0.45,0.35],[0.5,0.0],[0.55,0.55],[0.6,0.2],[0.65,-0.3],
  [0.7,0.5],[0.75,0.15],[0.8,-0.15],[0.85,0.55],[0.9,0.1],[0.95,-0.3],[1.0,0.4],[1.05,0.05],[1.1,0.6],[1.15,0.2],
  [1.2,-0.15],[1.25,0.45],[1.3,0.05],[1.35,-0.25],[1.4,0.3],[1.45,0.1],
  [-0.78,0.5],[-0.68,-0.05],[-0.58,0.2],[-0.48,0.45],[-0.38,-0.05],[-0.28,0.2],[-0.18,-0.35],[-0.08,0.4],[0.02,0.2],[0.12,0.0],
  [0.22,0.35],[0.32,-0.1],[0.42,0.1],[0.52,0.4],[0.62,0.0],[0.72,0.3],[0.82,0.0],[0.92,0.35],[1.02,-0.15],[1.12,0.3],
  [1.22,0.15],[1.32,0.45],[1.42,-0.1],
  [-0.5,0.65],[-0.2,0.75],[0.15,0.7],[0.5,0.7],[0.9,0.7],[1.25,0.65],[-0.45,-0.5],[-0.05,-0.5],[0.35,-0.5],[0.75,-0.5],
  [1.15,-0.45],[0.0,0.1],[0.3,0.25],[0.6,0.35],[0.9,0.2],[-0.3,0.05],[0.2,-0.05],[0.55,0.15],[0.8,0.35],[1.1,0.0],
  [-0.1,0.3],[0.4,0.45]
];
const meanFit = [[-6.5,0.78],[-5.34,0.56],[-4.06,0.36],[-2.62,0.05],[-1.51,-0.01],[0.02,0.0],[0.74,0.05],[1.59,0.13],
  [2.44,0.25],[3.29,0.43],[4.57,0.67],[5.84,0.85],[6.5,0.94]];

// titles, frame box and axis labels drawn round the chart area
const panelText = {
  id: 'panelText',
  afterDraw(chart, args, opts) {
    const { ctx, chartArea: a } = chart;
    const cx = (a.left + a.right) / 2;
    const cy = (a.top + a.bottom) / 2;
    ctx.save();
    ctx.strokeStyle = '#6e6e6e';
    ctx.lineWidth = 1.5;
    ctx.strokeRect(a.left, a.top, a.right - a.left, a.bottom - a.top);

    ctx.fillStyle = '#000';
    ctx.textBaseline = 'alphabetic';
    ctx.textAlign = 'center';
    ctx.font = 'bold 31px ' + FONT;
    ctx.fillText(opts.title, cx, 33);

    const big = '26px ' + FONT, small = '19px ' + FONT;
    ctx.font = big;
    const w1 = ctx.measureText(xLabelParts[0]).width;
    const w3 = ctx.measureText(xLabelParts[2]).width;
    ctx.font = small;
    const w2 = ctx.measureText(xLabelParts[1]).width;
    let x = cx - (w1 + w2 + w3) / 2;
    ctx.textAlign = 'left';
    ctx.font = big; ctx.fillText(xLabelParts[0], x, 561); x += w1;
    ctx.font = small; ctx.fillText(xLabelParts[1], x, 564); x += w2;
    ctx.font = big; ctx.fillText(xLabelParts[2], x, 561);

    ctx.translate(a.left - 59, cy);
    ctx.rotate(-Math.PI / 2);
    ctx.textAlign = 'center';
    ctx.font = big;
    ctx.fillText(yLabel, 0, 0);
    ctx.restore();
  }
};

function toXY(arr) {
  return arr.map(p => ({ x: p[0], y: p[1] }));
}

function makePanel(id, title, pts, fit, padLeft, padRight) {
  return new Chart(document.getElementById(id), {
    type: 'scatter',
    data: {
      datasets: [
        { data: toXY(fit), showLine: true, borderColor: '#ff0000', borderWidth: 2.8, pointRadius: 0, tension: 0.3, order: 0 },
        { data: [{ x: xRange[0], y: 0 }, { x: xRange[1], y: 0 }], showLine: true, borderColor: '#9c9c9c',
          borderWidth: 2, borderDash: [8, 6], pointRadius: 0, order: 1 },
        { data: toXY(pts), pointRadius: 3.7, pointBorderWidth: 1.5, pointBorderColor: '#111',
          pointBackgroundColor: 'rgba(0,0,0,0)', order: 2 }
      ]
    },
    options: {
      responsive: false,
      animation: false,
      devicePixelRatio: 1,
      events: [],
      layout: { padding: { left: padLeft, right: padRight, top: 77, bottom: 35 } },
      plugins: {
        legend: { display: false },
        tooltip: { enabled: false },
        panelText: { title: title }
      },
      scales: {
        x: {
          type: 'linear', min: xRange[0], max: xRange[1],
          afterBuildTicks: s => { s.ticks = xTicks.map(v => ({ value: v })); },
          afterFit: s => { s.height = 45; },
          grid: { drawOnChartArea: false, tickLength: 7, color: '#555' },
          border: { display: false },
          ticks: { color: '#000', font: { family: FONT, size: 26 }, padding: 5, maxRotation: 0, autoSkip: false }
        },
        y: {
          type: 'linear', min: yRange[0], max: yRange[1],
          afterBuildTicks: s => { s.ticks = yTicks.map(v => ({ value: v })); },
          afterFit: s => { s.width = 40; },
          grid: { drawOnChartArea: false, tickLength: 7, color: '#555' },
          border: { display: false },
          ticks: { color: '#000', font: { family: FONT, size: 26 }, padding: 12, minRotation: 90, maxRotation: 90,
            crossAlign: 'center', autoSkip: false }
        }
      }
    },
    plugins: [panelText]
  });
}

makePanel('c1', 'Bullard et al', bullardPts.concat(bullardCore), bullardFit, 50, 15);
makePanel('c2', 'Robust (Sym)', symPts.concat(symCore), symFit, 62, 5);
makePanel('c3', 'Robust (Asym)', asymPts.concat(asymCore), asymFit, 50, 15);
makePanel('c4', 'Mean', meanPts.concat(meanCore), meanFit, 62, 5);
</script>
</body>
</html>
